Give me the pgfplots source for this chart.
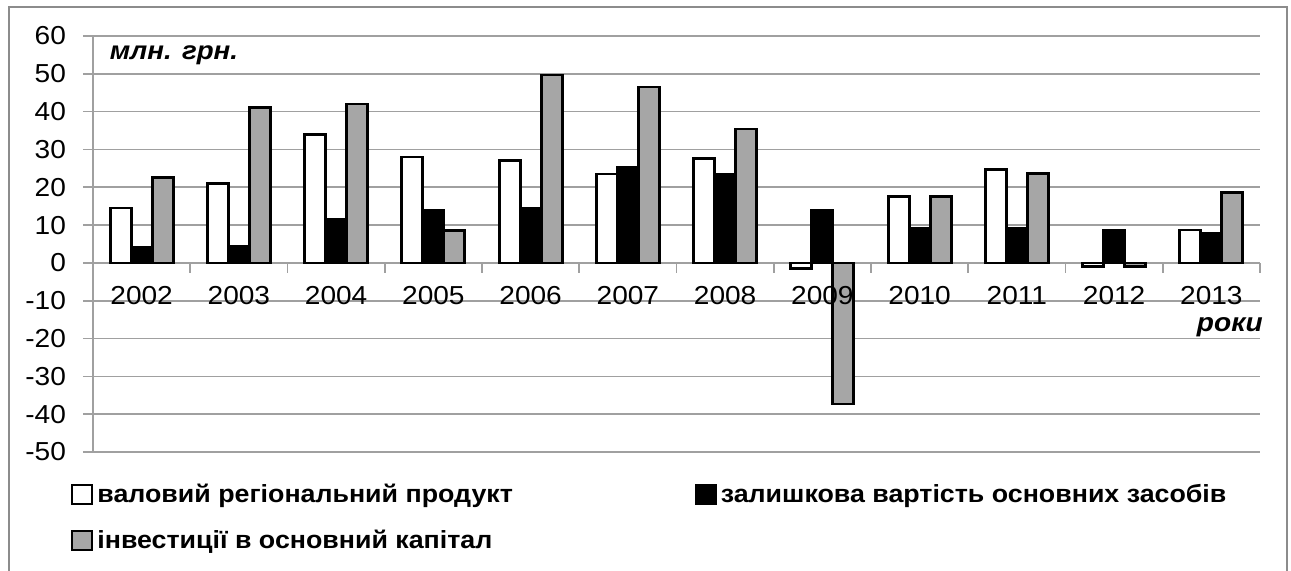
\documentclass[border=0pt]{standalone}
\usepackage{fontspec}
\setmainfont{Liberation Sans}[FakeStretch=1.08]
\usepackage{pgfplots}
\pgfplotsset{compat=1.18}
\definecolor{barg}{HTML}{A6A6A6}
\definecolor{gridc}{HTML}{A0A0A0}
\definecolor{framec}{HTML}{8C8C8C}
\begin{document}
\begin{tikzpicture}
\useasboundingbox (-46.5pt,-59pt) rectangle (599pt,226pt);
\begin{axis}[
  at={(0,0)}, anchor=south west,
  scale only axis, width=583.5pt, height=208pt,
  xmin=-0.5, xmax=11.5, ymin=-50, ymax=60,
  ybar=0pt, bar width=10.5pt,
  axis x line*=middle, axis y line*=left,
  axis line style={gridc, line width=0.8pt, -},
  xtick={0,...,11},
  xticklabels={},
  major x tick style={draw=none},
  minor xtick={-0.5,0.5,...,11.5},
  minor x tick style={gridc, line width=0.8pt},
  minor tick length=5pt,
  ytick={-50,-40,...,60},
  ymajorgrids, grid style={gridc, line width=0.8pt},
  major y tick style={gridc, line width=0.8pt},
  major tick length=5pt, tick align=outside,
  tick label style={font=\fontsize{13}{15}\selectfont},
  /pgf/number format/assume math mode=true,
  yticklabel style={xshift=-5pt},
  legend columns=2,
  legend style={at={(0,0)}, anchor=north west, xshift=-14pt, yshift=-12pt,
    draw=none, fill=none, font=\bfseries\fontsize{12.4}{15}\selectfont,
    /tikz/every even column/.append style={column sep=89pt},
    row sep=8pt},
  legend cell align=left,
  legend image code/.code={\draw[#1, line width=1pt, draw=black] (0pt,-4.5pt) rectangle (10pt,5pt);},
  every axis plot/.append style={draw=black, line width=1.4pt},
  clip=false,
]
\addplot[fill=white] coordinates {(0,14.5) (1,21) (2,34) (3,28) (4,27) (5,23.5) (6,27.7) (7,-1.5) (8,17.6) (9,24.6) (10,-1) (11,8.7)};
\addplot[fill=black] coordinates {(0,4) (1,4.3) (2,11.4) (3,14) (4,14.3) (5,25.2) (6,23.5) (7,13.8) (8,9.2) (9,9.2) (10,8.5) (11,7.8)};
\addplot[fill=barg] coordinates {(0,22.5) (1,41) (2,42) (3,8.5) (4,49.7) (5,46.5) (6,35.4) (7,-37.3) (8,17.6) (9,23.7) (10,-1) (11,18.7)};
\legend{валовий регіональний продукт, залишкова вартість основних засобів, інвестиції в основний капітал}
\pgfplotsinvokeforeach{0,...,11}{
  \node[anchor=north, yshift=-8pt, font=\fontsize{13}{15}\selectfont] at (axis cs:#1,0) {\pgfmathparse{int(2002+#1)}\pgfmathresult};
}
\node[anchor=west, font=\bfseries\itshape\fontsize{12.8}{15}\selectfont] at (axis cs:-0.40,55) {млн. грн.};
\node[anchor=east, font=\bfseries\itshape\fontsize{13}{15}\selectfont] at (axis cs:11.6,-17) {роки};
\end{axis}
\draw[framec, line width=1.2pt] (-42pt,-70pt) -- (-42pt,222.5pt) -- (597pt,222.5pt) -- (597pt,-70pt);
\end{tikzpicture}
\end{document}
